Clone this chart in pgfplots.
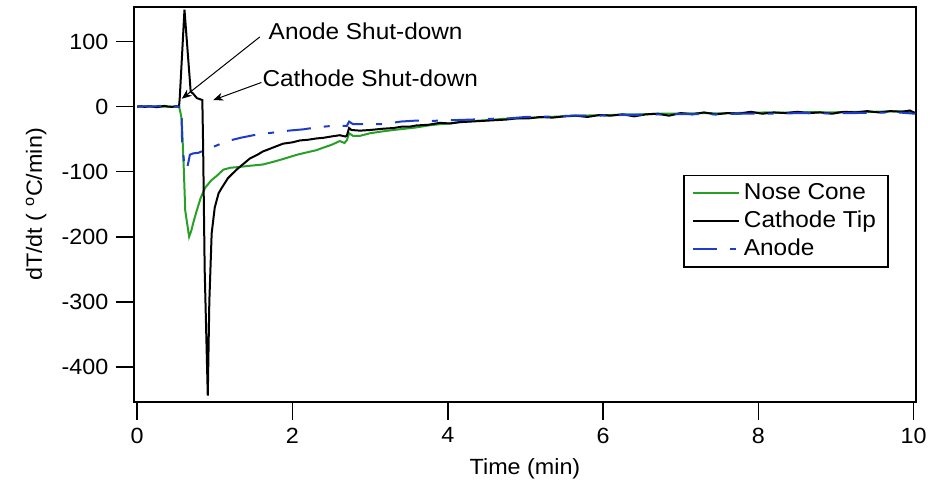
\documentclass[border=0pt]{standalone}
\usepackage{pgfplots}
\pgfplotsset{compat=1.18}
\usepackage{fontspec}
\setmainfont{Liberation Sans}[FakeStretch=1.06]
\usetikzlibrary{arrows.meta}
\definecolor{nose}{RGB}{40,160,40}
\definecolor{anode}{RGB}{30,60,200}
\begin{document}
\fontsize{11}{13}\selectfont
\begin{tikzpicture}
 \begin{axis}[scale only axis,width=391pt,height=197.5pt,
   xmin=-0.04,xmax=10.03,ymin=-454,ymax=153,
   xtick={0,2,...,10},ytick={-400,-300,...,100},
   tick align=outside,xtick pos=left,ytick pos=left,
   major tick length=9pt,
   axis line style={line width=0.8pt},tick style={line width=0.8pt,black},
   /pgf/number format/assume math mode=true,
   xlabel={Time (min)},ylabel={dT/dt ( \textsuperscript{o}C/min)},
   legend cell align=left,
   legend style={at={(0.965,0.575)},anchor=north east,draw=black,line width=0.8pt,
     inner xsep=4pt,inner ysep=2pt,row sep=0pt,font=\fontsize{11.5}{13}\selectfont},
   legend image code/.code={\draw[#1] (0pt,0pt) -- (23pt,0pt);},
  ]
  \addplot[nose,line width=1pt] coordinates {
(0,0) (0.54,0) (0.56,-10) (0.575,-20) (0.60,-92) (0.62,-160) (0.67,-200) (0.70,-190)
(0.72,-180) (0.77,-159) (0.82,-140) (0.875,-125) (0.95,-114) (1.03,-106) (1.11,-97)
(1.2,-94) (1.3,-93) (1.45,-91) (1.62,-89) (1.75,-85) (1.84,-82) (1.95,-78) (2.06,-74)
(2.2,-70) (2.31,-67) (2.4,-63) (2.5,-59) (2.61,-53) (2.67,-56) (2.70,-52) (2.73,-41)
(2.78,-45) (2.87,-45) (3.0,-41) (3.17,-38) (3.3,-36) (3.45,-34) (3.6,-32) (3.75,-29)
(3.9,-27) (4.03,-26) (4.2,-23) (4.35,-22) (4.5,-21) (4.7,-19) (4.9,-18) (5.1,-17)
(5.3,-16) (5.5,-15) (5.7,-14) (5.9,-13.5) (6.1,-13) (6.3,-12) (6.5,-12) (6.7,-11)
(6.9,-11) (7.1,-10.5) (7.3,-10) (7.5,-10.5) (7.7,-10) (7.9,-9.5) (8.1,-9) (8.3,-9.5)
(8.5,-9) (8.7,-8.5) (8.9,-9) (9.1,-8.5) (9.3,-8) (9.5,-8) (9.7,-7.5) (9.9,-7.5) (10.02,-10)
  };
  \addplot[black,line width=1pt] coordinates {
(0.00,0) (0.05,0.5) (0.10,-0.5) (0.15,0.5) (0.20,0) (0.25,-1) (0.30,0) (0.35,1)
(0.40,0) (0.45,-0.5) (0.50,0.5) (0.54,0) (0.55,15) (0.61,149) (0.69,23) (0.72,20)
(0.77,13) (0.84,10) (0.85,-60) (0.87,-250) (0.91,-444) (0.93,-300) (0.96,-195)
(1.00,-155) (1.05,-133) (1.09,-125) (1.17,-110) (1.28,-97) (1.37,-88) (1.45,-80)
(1.55,-74) (1.62,-69) (1.75,-63) (1.88,-57) (2.00,-55) (2.10,-52) (2.20,-51)
(2.31,-49) (2.40,-48) (2.50,-46) (2.61,-44) (2.68,-46) (2.70,-45) (2.73,-33)
(2.76,-36) (2.87,-37) (3.00,-36) (3.17,-34) (3.30,-33) (3.40,-31) (3.50,-31)
(3.60,-29) (3.75,-28) (3.90,-25) (4.03,-26) (4.15,-24) (4.30,-23) (4.45,-22)
(4.60,-21) (4.75,-20) (4.90,-18) (5.05,-18) (5.20,-16) (5.35,-17) (5.50,-15)
(5.65,-14) (5.80,-16) (5.95,-13) (6.10,-14) (6.25,-12) (6.40,-15) (6.55,-12)
(6.70,-11) (6.85,-14) (7.00,-10) (7.15,-12) (7.30,-9) (7.45,-12) (7.60,-10)
(7.75,-11) (7.90,-8) (8.05,-11) (8.20,-9) (8.35,-10) (8.50,-8) (8.65,-10)
(8.80,-9) (8.95,-11) (9.10,-8) (9.25,-9) (9.40,-7) (9.55,-9) (9.70,-7)
(9.85,-8) (9.95,-6) (10.02,-10)
  };
  \addplot[anode,line width=1pt,dash pattern=on 12pt off 6.5pt on 3pt off 6.5pt] coordinates {
(0,0) (0.1,0.5) (0.2,0) (0.3,1) (0.4,0.5) (0.5,0) (0.57,0) (0.58,-60) (0.61,-90)
(0.64,-97) (0.67,-80) (0.68,-74) (0.72,-72) (0.79,-71) (0.85,-68) (0.98,-62) (1.1,-56)
(1.2,-52) (1.33,-48) (1.5,-44) (1.75,-40) (1.95,-37) (2.14,-35) (2.31,-32) (2.48,-30)
(2.6,-29) (2.70,-30) (2.73,-23) (2.78,-27) (2.91,-27) (3.17,-27) (3.4,-23) (3.6,-21.5)
(3.8,-22) (4.03,-21) (4.3,-20) (4.5,-19) (4.8,-18) (5.0,-16) (5.3,-15.5) (5.6,-14)
(5.9,-14) (6.2,-13) (6.5,-12.5) (6.8,-12) (7.1,-11.5) (7.4,-12) (7.7,-11) (8.0,-11)
(8.3,-10.5) (8.6,-10) (8.9,-10.5) (9.2,-10) (9.5,-9.5) (9.8,-9) (10.02,-11)
  };
  \legend{Nose Cone,Cathode Tip,Anode}
  \node[anchor=west,inner sep=0pt,font=\fontsize{11.5}{13}\selectfont] at (axis cs:1.69,115) {Anode Shut-down};
  \node[anchor=west,inner sep=0pt,font=\fontsize{11.5}{13}\selectfont] at (axis cs:1.61,43) {Cathode Shut-down};
  \draw[-{Stealth[length=5pt,width=4pt]},line width=0.5pt] (axis cs:1.58,107) -- (axis cs:0.575,12);
  \draw[-{Stealth[length=5pt,width=4pt]},line width=0.5pt] (axis cs:1.60,37) -- (axis cs:0.98,10);
  \coordinate (sw) at (rel axis cs:0,0);
 \end{axis}
 \pgfresetboundingbox
 \path[use as bounding box] (sw) ++(-67pt,-45.5pt) rectangle ++(465pt,246.5pt);
\end{tikzpicture}
\end{document}
